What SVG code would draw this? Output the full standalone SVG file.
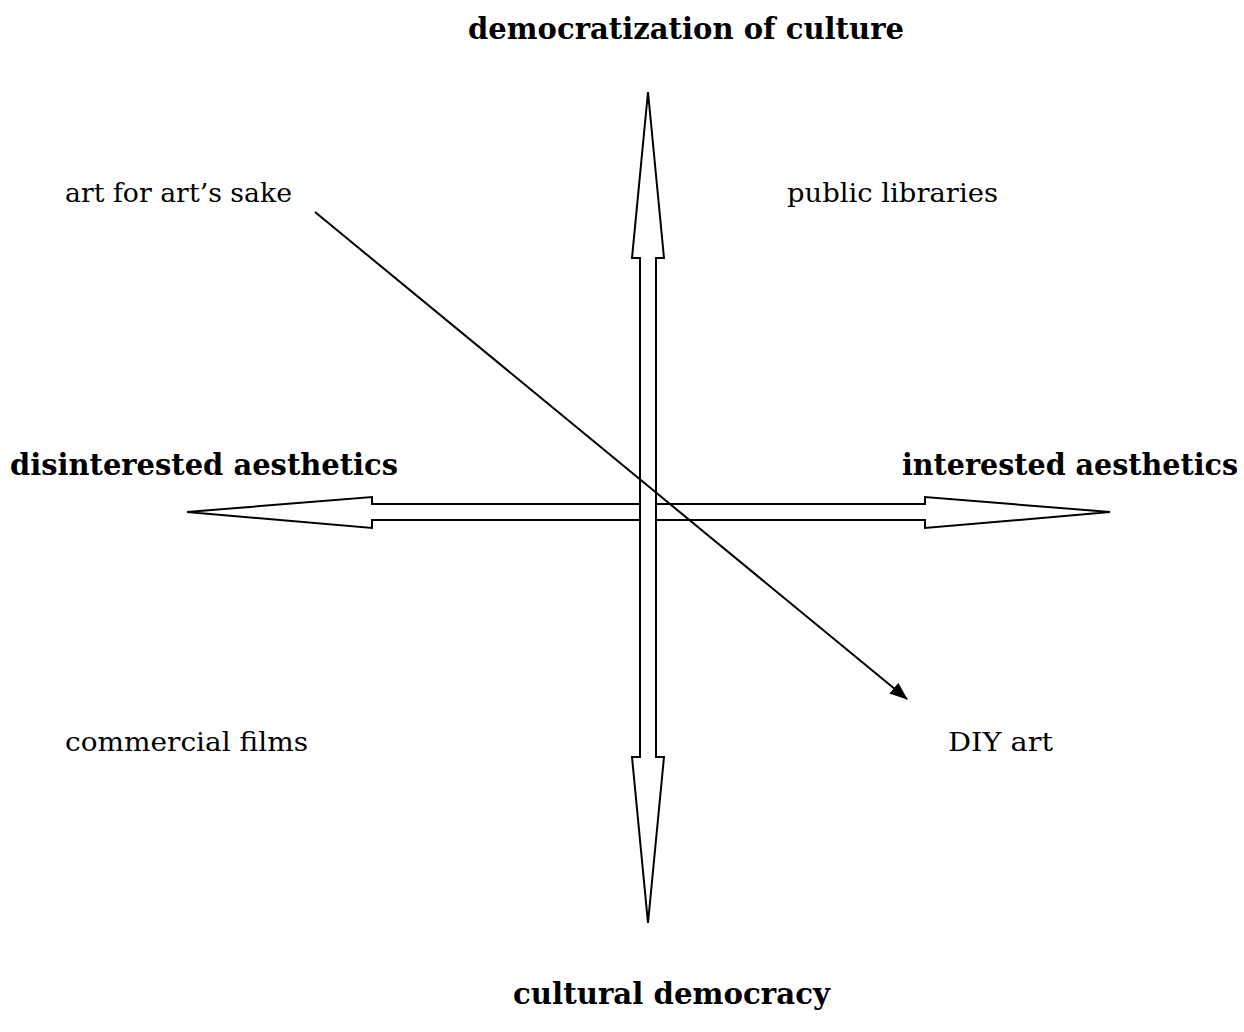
<svg xmlns="http://www.w3.org/2000/svg" width="1244" height="1032" viewBox="0 0 1244 1032">
<style>
.b{font-family:"DejaVu Serif","Liberation Serif",serif;font-weight:bold;font-size:29px;fill:#000}
.r{font-family:"DejaVu Serif","Liberation Serif",serif;font-size:26px;fill:#000}
.ax{fill:#fff;stroke:#000;stroke-width:2;stroke-linejoin:miter}
.ln{stroke:#000;stroke-width:2;fill:none}
</style>
<defs>
<marker id="ah" viewBox="0 0 18 14" refX="17" refY="7" markerWidth="18" markerHeight="14" markerUnits="userSpaceOnUse" orient="auto">
<path d="M0,0 L18,7 L0,14 Z" fill="#000"/>
</marker>
</defs>
<rect width="1244" height="1032" fill="#fff"/>
<g id="labels">
<g id="n-top"><text class="b" x="468" y="39" textLength="436" lengthAdjust="spacingAndGlyphs">democratization of culture</text></g>
<g id="n-bottom"><text class="b" x="513" y="1004" textLength="317" lengthAdjust="spacingAndGlyphs">cultural democracy</text></g>
<g id="n-left"><text class="b" x="10" y="475" textLength="388" lengthAdjust="spacingAndGlyphs">disinterested aesthetics</text></g>
<g id="n-right"><text class="b" x="902" y="475" textLength="336" lengthAdjust="spacingAndGlyphs">interested aesthetics</text></g>
<g id="n-artsake"><text class="r" x="65" y="202" textLength="227" lengthAdjust="spacingAndGlyphs">art for art’s sake</text></g>
<g id="n-libraries"><text class="r" x="787" y="202" textLength="211" lengthAdjust="spacingAndGlyphs">public libraries</text></g>
<g id="n-films"><text class="r" x="65" y="751" textLength="243" lengthAdjust="spacingAndGlyphs">commercial films</text></g>
<g id="n-diy"><text class="r" x="948" y="751" textLength="105" lengthAdjust="spacingAndGlyphs">DIY art</text></g>
</g>
<g id="connectors">
<path id="h-axis" class="ax" d="M187,512 L372,497 L372,504 L925,504 L925,497 L1110,512 L925,528 L925,520 L372,520 L372,528 Z"/>
<path id="v-axis" class="ax" d="M648,92 L664,258 L656,258 L656,757 L664,757 L648,923 L632,757 L640,757 L640,258 L632,258 Z"/>
<line id="diag" class="ln" x1="315" y1="212" x2="907" y2="699" marker-end="url(#ah)"/>
</g>
</svg>
